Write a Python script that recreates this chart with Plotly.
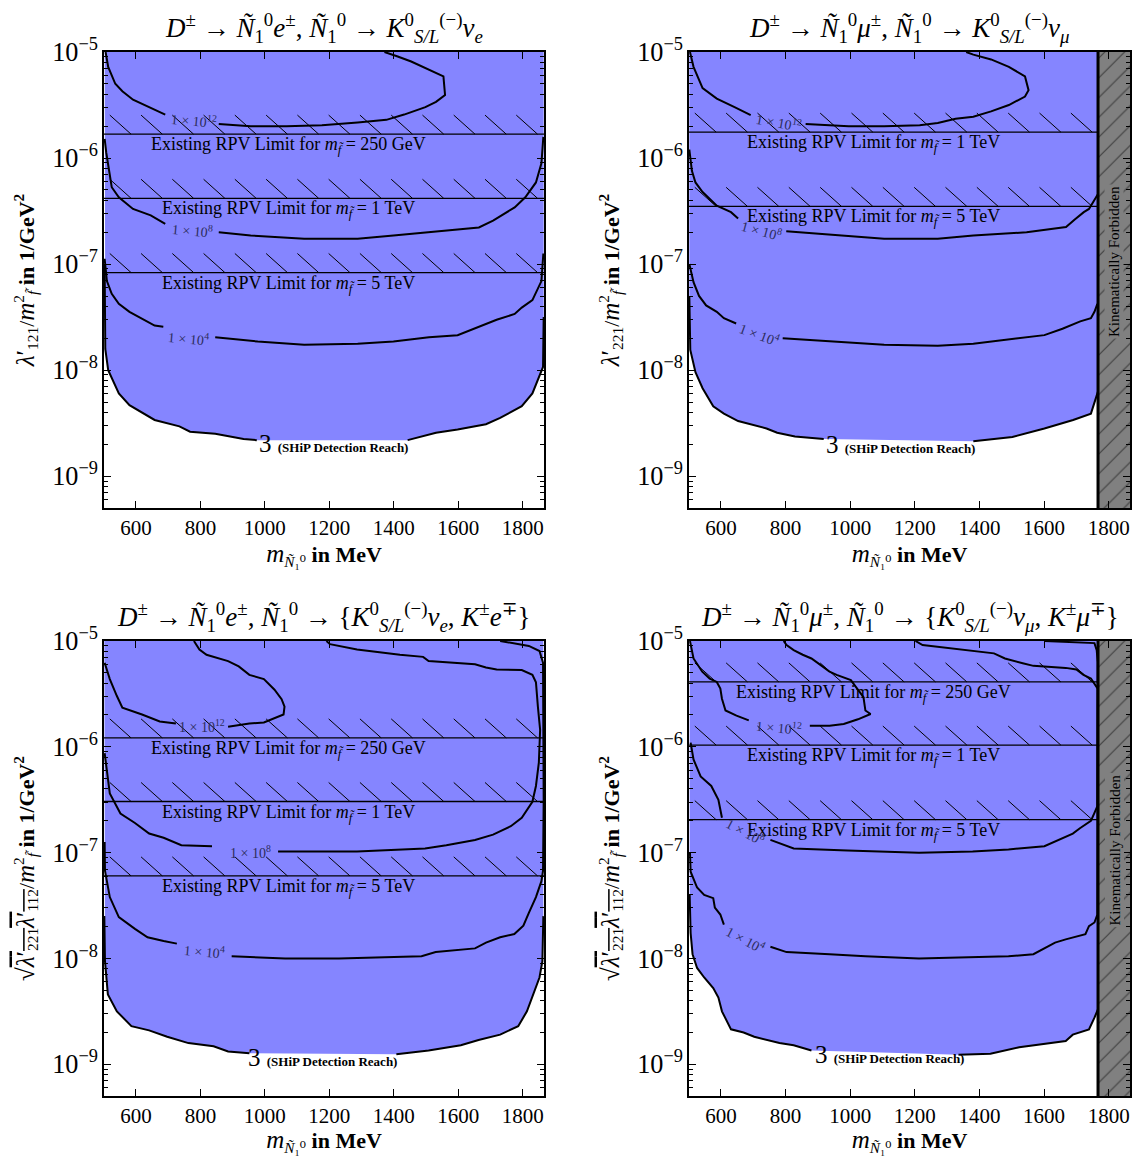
import plotly.graph_objects as go

FONT = "Liberation Serif, DejaVu Serif, serif"
BLUE = "#8585ff"
LABEL_COLOR = "#2c2c5c"
W, H = 1137, 1156

X_RANGE = [501, 1866]
LOG_Y_RANGE = [-9.3, -5.0]
X_TICKS = [600, 800, 1000, 1200, 1400, 1600, 1800]
M_KIN_LIMIT_MU = 1767
HATCH_DECADES = 0.18      # height of the hatch band above each limit line
HATCH_START = 519         # first hatch stroke (MeV)
HATCH_STEP = 97           # spacing of hatch strokes (MeV)
HATCH_RUN = 66            # horizontal run of one stroke (MeV)

# ---------------- Panel 1: D -> N e, N -> K nu_e ----------------
p1_c12_x = [506, 514, 536, 558, 591, 646, 691, None, 857, 956, 1067, 1177, 1288, 1377, 1432, 1498, 1531, 1559, 1554, 1509, 1454, 1410, 1371]
p1_c12_logy = [-5.0, -5.14, -5.30, -5.37, -5.45, -5.53, -5.59, None, -5.68, -5.70, -5.70, -5.69, -5.665, -5.64, -5.59, -5.52, -5.47, -5.405, -5.23, -5.17, -5.09, -5.04, -5.0]
p1_c8_x = [503, 508, 525, 547, 591, 646, 691, None, 857, 956, 1122, 1288, 1399, 1509, 1664, 1708, 1775, 1808, 1841, 1858, 1864]
p1_c8_logy = [-5.82, -5.95, -6.275, -6.37, -6.48, -6.54, -6.62, None, -6.70, -6.73, -6.76, -6.76, -6.73, -6.70, -6.655, -6.59, -6.465, -6.37, -6.23, -6.05, -5.80]
p1_c4_x = [503, 510, 525, 547, 580, 624, 658, 685, None, 846, 978, 1122, 1288, 1399, 1509, 1598, 1664, 1719, 1775, 1797, 1830, 1847, 1858, 1864]
p1_c4_logy = [-6.95, -7.16, -7.28, -7.375, -7.45, -7.52, -7.58, -7.59, None, -7.69, -7.73, -7.76, -7.75, -7.73, -7.69, -7.67, -7.59, -7.525, -7.47, -7.41, -7.34, -7.22, -7.16, -6.90]
p1_c3_x = [503, 505, 514, 547, 580, 624, 658, 735, 768, 846, 934, 975, None, 1443, 1531, 1598, 1686, 1730, 1797, 1830, 1852, 1863, 1865]
p1_c3_logy = [-7.0, -7.80, -8.0, -8.22, -8.33, -8.41, -8.47, -8.53, -8.58, -8.60, -8.65, -8.66, None, -8.66, -8.59, -8.56, -8.51, -8.45, -8.34, -8.22, -8.06, -7.97, -7.5]
p1_rpv_logy = [-5.775, -6.38, -7.08]
p1_rpv_names = ["250 GeV", "1 TeV", "5 TeV"]

# ---------------- Panel 2: D -> N mu, N -> K nu_mu ----------------
p2_c12_x = [504, 515, 543, 587, 642, 692, None, 862, 995, 1105, 1215, 1271, 1326, 1381, 1436, 1491, 1541, 1552, 1541, 1491, 1436, 1381, 1359]
p2_c12_logy = [-5.0, -5.14, -5.34, -5.44, -5.52, -5.595, None, -5.68, -5.70, -5.70, -5.69, -5.67, -5.63, -5.61, -5.56, -5.50, -5.42, -5.36, -5.23, -5.14, -5.07, -5.025, -5.0]
p2_c8_x = [502, 504, 510, 521, 543, 587, 631, 653, None, 802, 940, 1105, 1271, 1381, 1546, 1668, 1695, 1723, 1739, 1756, 1767]
p2_c8_logy = [-5.92, -5.99, -6.12, -6.23, -6.32, -6.45, -6.51, -6.57, None, -6.69, -6.72, -6.76, -6.76, -6.73, -6.70, -6.65, -6.58, -6.51, -6.48, -6.40, -6.34]
p2_c4_x = [502, 515, 532, 554, 587, 609, 647, None, 791, 940, 1105, 1271, 1381, 1601, 1657, 1712, 1745, 1756, 1765]
p2_c4_logy = [-7.0, -7.17, -7.30, -7.39, -7.45, -7.51, -7.56, None, -7.70, -7.73, -7.76, -7.77, -7.75, -7.67, -7.61, -7.54, -7.51, -7.45, -7.375]
p2_c3_x = [502, 505, 521, 543, 576, 609, 653, 741, 774, 829, 918, None, 1381, 1502, 1601, 1690, 1745, 1761, 1767]
p2_c3_logy = [-7.3, -7.81, -8.02, -8.17, -8.34, -8.41, -8.48, -8.55, -8.59, -8.625, -8.65, None, -8.67, -8.63, -8.55, -8.47, -8.41, -8.27, -8.20]
p2_rpv_logy = [-5.756, -6.456]
p2_rpv_names = ["1 TeV", "5 TeV"]

# ---------------- Panel 3: D -> N e, N -> {K nu_e, K e} ----------------
p3_c12a_x = [503, 519, 541, 558, 619, 674, 724, None, 886, 952, 997, 1030, 1058, 1061, 1052, 1030, 997, 952, 919, 886, 819, 797, 783, 780]
p3_c12a_logy = [-5.205, -5.36, -5.52, -5.63, -5.695, -5.76, -5.78, None, -5.81, -5.78, -5.77, -5.73, -5.695, -5.62, -5.55, -5.46, -5.36, -5.32, -5.24, -5.19, -5.13, -5.08, -5.016, -5.0]
p3_c8_x = [503, 519, 552, 597, 641, 686, 741, 836, None, 1041, 1286, 1497, 1563, 1652, 1708, 1763, 1797, 1830, 1841, 1850, 1854, 1847, 1841, 1830, 1797, 1719, 1686, 1652, 1574, 1508, 1491, 1419, 1286, 1202, 1191]
p3_c8_logy = [-6.06, -6.44, -6.63, -6.72, -6.82, -6.86, -6.93, -6.94, None, -6.99, -6.99, -6.96, -6.93, -6.88, -6.83, -6.75, -6.67, -6.52, -6.37, -6.15, -5.84, -5.62, -5.39, -5.32, -5.275, -5.27, -5.25, -5.22, -5.205, -5.19, -5.15, -5.13, -5.08, -5.03, -5.0]
p3_c4_x = [503, 504, 519, 547, 597, 636, 686, 727, None, 897, 1063, 1230, 1397, 1486, 1530, 1652, 1686, 1730, 1774, 1802, 1819, 1841, 1858, 1863, 1865, 1863, 1852, 1819, 1730]
p3_c4_logy = [-6.9, -7.17, -7.42, -7.61, -7.72, -7.80, -7.835, -7.86, None, -7.98, -8.0, -8.0, -7.99, -7.98, -7.94, -7.905, -7.85, -7.80, -7.77, -7.69, -7.57, -7.42, -7.27, -7.17, -6.5, -5.205, -5.095, -5.047, -5.0]
p3_c3_x = [502, 504, 513, 541, 586, 641, 697, 763, 841, 886, 952, None, 1408, 1508, 1608, 1663, 1730, 1786, 1813, 1836, 1852, 1861, 1864]
p3_c3_logy = [-7.6, -8.025, -8.34, -8.50, -8.64, -8.68, -8.74, -8.80, -8.83, -8.88, -8.895, None, -8.905, -8.87, -8.82, -8.77, -8.72, -8.64, -8.50, -8.31, -8.18, -8.025, -7.6]
p3_rpv_logy = [-5.916, -6.517, -7.22]
p3_rpv_names = ["250 GeV", "1 TeV", "5 TeV"]

# ---------------- Panel 4: D -> N mu, N -> {K nu_mu, K mu} ----------------
p4_c12_x = [504, 515, 542, 565, 587, 598, 603, 614, 648, 686, None, 875, 936, 980, 1024, 1063, 1047, 1041, 1019, 1002, 958, 936, 914, 880, 853, 825, 803, 794]
p4_c12_logy = [-5.0, -5.165, -5.29, -5.355, -5.387, -5.45, -5.546, -5.657, -5.705, -5.75, None, -5.80, -5.80, -5.785, -5.74, -5.69, -5.657, -5.53, -5.435, -5.37, -5.32, -5.29, -5.24, -5.165, -5.13, -5.086, -5.038, -5.0]
p4_c8_x = [506, 515, 537, 570, 592, 603, None, 753, 825, 991, 1213, 1379, 1490, 1601, 1645, 1689, 1711, 1745, 1756, 1765, 1766, 1756, 1745, 1722, 1700, 1667, 1567, 1534, 1479, 1445, 1401, 1312, 1224, 1202]
p4_c8_logy = [-5.96, -6.12, -6.28, -6.37, -6.50, -6.67, None, -6.88, -6.96, -6.98, -7.0, -6.99, -6.97, -6.94, -6.88, -6.82, -6.77, -6.70, -6.625, -6.56, -5.45, -5.40, -5.355, -5.32, -5.27, -5.254, -5.235, -5.21, -5.165, -5.117, -5.10, -5.07, -5.038, -5.0]
p4_c4_x = [504, 506, 526, 548, 576, 581, 598, 609, None, 753, 803, 936, 1047, 1213, 1379, 1490, 1567, 1634, 1667, 1728, 1739, 1756, 1765, 1766, 1763, 1756, 1601]
p4_c4_logy = [-7.0, -7.18, -7.33, -7.40, -7.43, -7.52, -7.585, -7.68, None, -7.89, -7.94, -7.96, -7.98, -8.0, -7.99, -7.98, -7.96, -7.85, -7.82, -7.77, -7.695, -7.66, -7.585, -5.2, -5.086, -5.02, -5.0]
p4_c3_x = [503, 506, 512, 526, 548, 576, 592, 603, 631, 670, 703, 781, 825, 880, None, 1335, 1434, 1523, 1601, 1667, 1689, 1739, 1756, 1767]
p4_c3_logy = [-7.4, -7.76, -7.96, -8.09, -8.18, -8.28, -8.37, -8.50, -8.67, -8.70, -8.74, -8.80, -8.82, -8.87, None, -8.91, -8.90, -8.84, -8.81, -8.78, -8.72, -8.67, -8.56, -8.48]
p4_rpv_logy = [-5.387, -5.984, -6.689]
p4_rpv_names = ["250 GeV", "1 TeV", "5 TeV"]

# contour labels: (text, x, log10 y, angle)
p1_labels = [("1 × 10<sup>12</sup>", 779, -5.64, 5), ("1 × 10<sup>8</sup>", 776, -6.68, 5), ("1 × 10<sup>4</sup>", 763, -7.70, 5)]
p2_labels = [("1 × 10<sup>12</sup>", 780, -5.66, 10), ("1 × 10<sup>8</sup>", 725, -6.68, 15), ("1 × 10<sup>4</sup>", 719, -7.66, 20)]
p3_labels = [("1 × 10<sup>12</sup>", 805, -5.80, 0), ("1 × 10<sup>8</sup>", 955, -6.99, 0), ("1 × 10<sup>4</sup>", 812, -7.93, 5)]
p4_labels = [("1 × 10<sup>12</sup>", 781, -5.81, 5), ("1 × 10<sup>8</sup>", 675, -6.80, 28), ("1 × 10<sup>4</sup>", 675, -7.82, 28)]
ship_label_pos = [(975, -8.69), (920, -8.70), (940, -8.94), (885, -8.905)]
RPV_LABEL_X = 1073

titles = [
    "<i>D</i><sup>±</sup> → <i>Ñ</i><sub>1</sub><sup>0</sup><i>e</i><sup>±</sup>, <i>Ñ</i><sub>1</sub><sup>0</sup> → <i>K</i><sup>0</sup><sub><i>S/L</i></sub><sup>(−)</sup><i>ν</i><sub><i>e</i></sub>",
    "<i>D</i><sup>±</sup> → <i>Ñ</i><sub>1</sub><sup>0</sup><i>μ</i><sup>±</sup>, <i>Ñ</i><sub>1</sub><sup>0</sup> → <i>K</i><sup>0</sup><sub><i>S/L</i></sub><sup>(−)</sup><i>ν</i><sub><i>μ</i></sub>",
    "<i>D</i><sup>±</sup> → <i>Ñ</i><sub>1</sub><sup>0</sup><i>e</i><sup>±</sup>, <i>Ñ</i><sub>1</sub><sup>0</sup> → {<i>K</i><sup>0</sup><sub><i>S/L</i></sub><sup>(−)</sup><i>ν</i><sub><i>e</i></sub>, <i>K</i><sup>±</sup><i>e</i><sup>∓</sup>}",
    "<i>D</i><sup>±</sup> → <i>Ñ</i><sub>1</sub><sup>0</sup><i>μ</i><sup>±</sup>, <i>Ñ</i><sub>1</sub><sup>0</sup> → {<i>K</i><sup>0</sup><sub><i>S/L</i></sub><sup>(−)</sup><i>ν</i><sub><i>μ</i></sub>, <i>K</i><sup>±</sup><i>μ</i><sup>∓</sup>}",
]
MF = "<span style='font-size:25px'><i>m</i></span><sup>2</sup><sub><i>f\u0303</i></sub>"
UNIT = " <b>in 1/GeV<sup>2</sup></b>"
LAM = "<span style='font-size:25px'><i>λ</i>′</span>"
ytitles = [
    LAM + "<sub>121</sub>/" + MF + UNIT,
    LAM + "<sub>221</sub>/" + MF + UNIT,
    "<span style='font-size:25px'>√</span><span style='text-decoration:overline'>" + LAM + "<sub>221</sub>" + LAM + "<sub>112</sub></span>/" + MF + UNIT,
    "<span style='font-size:25px'>√</span><span style='text-decoration:overline'>" + LAM + "<sub>221</sub>" + LAM + "<sub>112</sub></span>/" + MF + UNIT,
]
xtitle = "<span style='font-size:25px'><i>m</i></span><sub><i>Ñ</i>₁⁰</sub> <b>in MeV</b>"

# panel frames in pixels (left, right, top, bottom)
boxes = [(104, 544, 52, 508), (689, 1130, 52, 508), (104, 544, 641, 1096), (689, 1130, 641, 1096)]

panels = [
    dict(contours=[(p1_c12_x, p1_c12_logy), (p1_c8_x, p1_c8_logy), (p1_c4_x, p1_c4_logy)], c3=(p1_c3_x, p1_c3_logy),
         rpv=(p1_rpv_logy, p1_rpv_names), forbidden=False, labels=p1_labels),
    dict(contours=[(p2_c12_x, p2_c12_logy), (p2_c8_x, p2_c8_logy), (p2_c4_x, p2_c4_logy)], c3=(p2_c3_x, p2_c3_logy),
         rpv=(p2_rpv_logy, p2_rpv_names), forbidden=True, labels=p2_labels),
    dict(contours=[(p3_c12a_x, p3_c12a_logy), (p3_c8_x, p3_c8_logy), (p3_c4_x, p3_c4_logy)], c3=(p3_c3_x, p3_c3_logy),
         rpv=(p3_rpv_logy, p3_rpv_names), forbidden=False, labels=p3_labels),
    dict(contours=[(p4_c12_x, p4_c12_logy), (p4_c8_x, p4_c8_logy), (p4_c4_x, p4_c4_logy)], c3=(p4_c3_x, p4_c3_logy),
         rpv=(p4_rpv_logy, p4_rpv_names), forbidden=True, labels=p4_labels),
]


def lin(vals):
    return [None if v is None else 10 ** v for v in vals]


fig = go.Figure()
annotations = []
layout_axes = {}
y_top = 10 ** LOG_Y_RANGE[1]
y_bot = 10 ** LOG_Y_RANGE[0]

for k, (panel, box) in enumerate(zip(panels, boxes), start=1):
    xa = "x" if k == 1 else f"x{k}"
    ya = "y" if k == 1 else f"y{k}"
    x_end = M_KIN_LIMIT_MU if panel["forbidden"] else X_RANGE[1]
    common = dict(xaxis=xa, yaxis=ya, hoverinfo="skip", showlegend=False)

    # SHiP reach fill (region above the 3-event contour)
    cx, cy = panel["c3"]
    fx = [v for v in cx if v is not None]
    fy = [10 ** v for v in cy if v is not None]
    fig.add_trace(go.Scatter(x=[fx[0]] + fx + [fx[-1]], y=[y_top] + fy + [y_top], mode="lines",
                             fill="toself", fillcolor=BLUE, line=dict(width=0), **common))

    # existing RPV limits: hatch strokes above the limit line + line + label
    for ly, name in zip(*panel["rpv"]):
        y0 = 10 ** ly
        y1 = 10 ** (ly + HATCH_DECADES)
        hx, hy = [], []
        xs = HATCH_START
        while xs < x_end:
            hx += [xs, xs + HATCH_RUN, None]
            hy += [y1, y0, None]
            xs += HATCH_STEP
        fig.add_trace(go.Scatter(x=hx, y=hy, mode="lines", connectgaps=False,
                                 line=dict(color="black", width=1), **common))
        fig.add_trace(go.Scatter(x=[X_RANGE[0], x_end], y=[y0, y0], mode="lines",
                                 line=dict(color="black", width=1.3), **common))
        annotations.append(dict(x=RPV_LABEL_X, y=ly, xref=xa, yref=ya, yanchor="top", xanchor="center", yshift=2,
                                text="Existing RPV Limit for <i>m</i><sub><i>f\u0303</i></sub> = " + name,
                                showarrow=False, font=dict(family=FONT, size=18, color="black")))

    # event-count contours
    for x, ly in panel["contours"] + [panel["c3"]]:
        fig.add_trace(go.Scatter(x=x, y=lin(ly), mode="lines", connectgaps=False,
                                 line=dict(color="black", width=2), **common))

    for text, lx, lly, ang in panel["labels"]:
        annotations.append(dict(x=lx, y=lly, xref=xa, yref=ya, text=text, showarrow=False, textangle=ang,
                                font=dict(family=FONT, size=14, color=LABEL_COLOR)))
    sx, sy = ship_label_pos[k - 1]
    annotations.append(dict(x=sx, y=sy, xref=xa, yref=ya, xanchor="left", showarrow=False,
                            text="3 <span style='font-size:13px'><b>(SHiP Detection Reach)</b></span>",
                            font=dict(family=FONT, size=25, color="black")))

    # kinematically forbidden region
    if panel["forbidden"]:
        fig.add_trace(go.Scatter(x=[M_KIN_LIMIT_MU, X_RANGE[1], X_RANGE[1], M_KIN_LIMIT_MU, M_KIN_LIMIT_MU],
                                 y=[y_bot, y_bot, y_top, y_top, y_bot], mode="lines", fill="toself",
                                 fillcolor="#808080", line=dict(width=0),
                                 fillpattern=dict(shape="/", fgcolor="black", bgcolor="#808080", size=14, solidity=0.08),
                                 **common))
        fig.add_trace(go.Scatter(x=[M_KIN_LIMIT_MU, M_KIN_LIMIT_MU], y=[y_bot, y_top], mode="lines",
                                 line=dict(color="black", width=3), **common))
        annotations.append(dict(x=(M_KIN_LIMIT_MU + X_RANGE[1]) / 2, y=-6.98, xref=xa, yref=ya, showarrow=False,
                                text="Kinematically Forbidden", textangle=-90, bgcolor="#808080",
                                font=dict(family=FONT, size=15, color="black")))

    L, R, T, B = box
    xkey = "xaxis" if k == 1 else f"xaxis{k}"
    ykey = "yaxis" if k == 1 else f"yaxis{k}"
    layout_axes[xkey] = dict(domain=[L / W, R / W], range=X_RANGE, anchor=ya, tickvals=X_TICKS,
                             ticks="inside", ticklen=7, tickwidth=1, tickcolor="black", mirror="allticks",
                             showline=True, linecolor="black", linewidth=1.6, showgrid=False, zeroline=False,
                             automargin=False, tickfont=dict(family=FONT, size=21, color="black"),
                             title=dict(text=xtitle, font=dict(family=FONT, size=22, color="black"), standoff=2))
    layout_axes[ykey] = dict(domain=[1 - B / H, 1 - T / H], type="log", range=LOG_Y_RANGE, dtick=1,
                             exponentformat="power", anchor=xa,
                             ticks="inside", ticklen=7, tickwidth=1, tickcolor="black", mirror="allticks",
                             minor=dict(ticks="inside", ticklen=4, tickcolor="black", dtick="D1", showgrid=False),
                             showline=True, linecolor="black", linewidth=1.6, showgrid=False, zeroline=False,
                             automargin=False, tickfont=dict(family=FONT, size=21, color="black"),
                             title=dict(text=ytitles[k - 1], font=dict(family=FONT, size=22, color="black"), standoff=12))
    annotations.append(dict(x=(L + R) / 2 / W, y=1 - T / H, xref="paper", yref="paper", yanchor="bottom",
                            xanchor="center", yshift=3, showarrow=False, text=titles[k - 1],
                            font=dict(family=FONT, size=27, color="black")))

fig.update_layout(width=W, height=H, autosize=False, margin=dict(l=0, r=0, t=0, b=0),
                  paper_bgcolor="white", plot_bgcolor="white", annotations=annotations, **layout_axes)
fig.write_html("out.html", config={"displayModeBar": False},
               post_script="document.body.style.margin='0px';")
